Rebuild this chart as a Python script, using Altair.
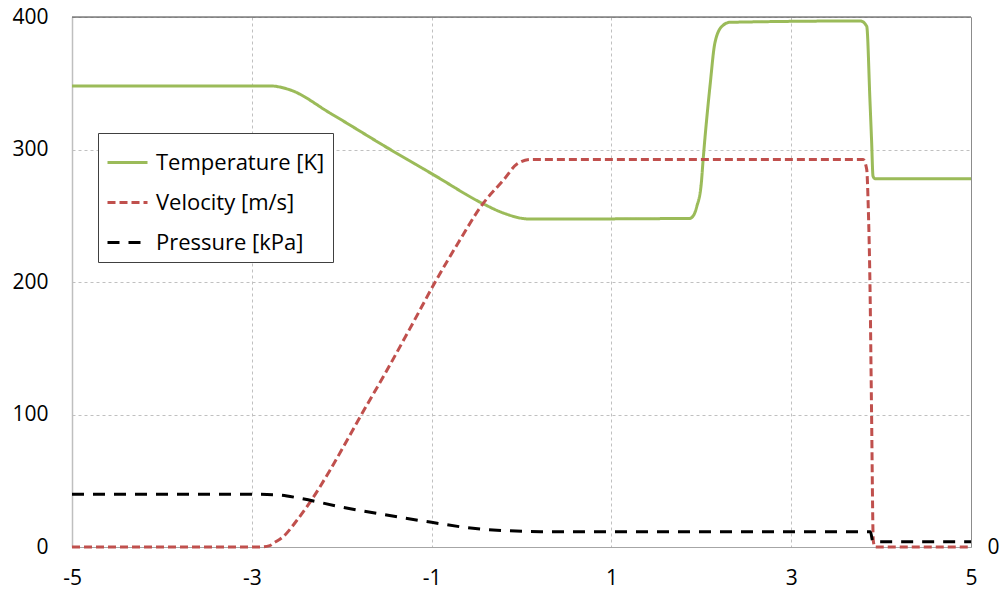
import altair as alt
import pandas as pd

# ---- data ----
series_names = ["Temperature [K]", "Velocity [m/s]", "Pressure [kPa]"]
series_colors = ["#9BBB59", "#C0504D", "#000000"]
series_dashes = [[1, 0], [8, 4], [12, 9]]

temp_x = [-5.0, -2.8, -2.575, -2.13, -1.46, -0.98, -0.425, -0.2, 0.094, 1.87,
          1.92, 1.95, 2.0, 2.02, 2.10, 2.15, 2.23, 2.32, 3.77, 3.84, 3.876,
          3.894, 3.91, 3.93, 5.0]
temp_y = [348, 348, 345, 327.5, 300, 281, 259, 252, 247.5, 248,
          251, 257, 274.5, 292, 350, 380, 393, 396, 397, 393, 337,
          307, 280, 278, 278]

vel_x = [-5.0, -2.9, -2.8, -2.76, -2.65, -2.5, -2.35, -2.13, -1.78, -1.5,
         -1.2, -0.96, -0.7, -0.43, -0.2, -0.05, 0.1, 3.80, 3.84, 3.857,
         3.876, 3.894, 3.913, 3.93, 5.0]
vel_y = [0, 0, 1, 2.8, 7.8, 20, 34, 58, 100, 133,
         170, 200, 230, 259, 277, 289, 292.5, 292.5, 285, 257,
         199, 101, 5, 0, 0]

pres_x = [-5.0, -3.0, -2.69, -2.46, -2.02, -1.57, -1.0, -0.54, -0.165, 0.21,
          3.88, 3.91, 5.0]
pres_y = [39.8, 39.8, 39.2, 36.7, 30.4, 24.9, 18.6, 14.1, 12.3, 11.6,
          11.6, 4.0, 4.0]

x_ticks = [-5, -3, -1, 1, 3, 5]
y_ticks = [0, 100, 200, 300, 400]
right_ticks = [0]
top_value = [400]

rows = []
for name, xs, ys in zip(series_names, [temp_x, vel_x, pres_x], [temp_y, vel_y, pres_y]):
    for i, (a, b) in enumerate(zip(xs, ys)):
        rows.append({"series": name, "x": a, "y": b, "order": i})
df = pd.DataFrame(rows)

FONT = "Open Sans"
LBL = 21

legend = alt.Legend(
    title=None, orient="none", legendX=26, legendY=116,
    symbolType="stroke", symbolSize=1600, symbolStrokeWidth=3,
    labelFont=FONT, labelFontSize=22, labelColor="black", labelLimit=400,
    labelOffset=7, rowPadding=7, padding=8,
    strokeColor="#404040", fillColor="white",
)

y_scale = alt.Scale(domain=[0, 400], nice=False, zero=True)

lines = alt.Chart(df).mark_line(strokeWidth=3, interpolate="monotone").encode(
    x=alt.X("x:Q", scale=alt.Scale(domain=[-5, 5], nice=False, zero=False),
            axis=alt.Axis(values=x_ticks, title=None, grid=True, gridDash=[3, 3],
                          gridColor="#C0C0C0", ticks=False, tickSize=0,
                          labelPadding=20, domainColor="#A6A6A6",
                          labelFont=FONT, labelFontSize=LBL, labelColor="black",
                          labelExpr="'' + datum.value", labelFlush=False)),
    y=alt.Y("y:Q", scale=y_scale,
            axis=alt.Axis(values=y_ticks, title=None, grid=True, gridDash=[3, 3],
                          gridColor="#C0C0C0", ticks=False, tickSize=0,
                          labelPadding=24, domainColor="#BFBFBF", domainWidth=1.5,
                          labelFont=FONT, labelFontSize=LBL, labelColor="black",
                          labelExpr="'' + datum.value")),
    color=alt.Color("series:N", scale=alt.Scale(domain=series_names, range=series_colors),
                    legend=legend),
    strokeDash=alt.StrokeDash("series:N", scale=alt.Scale(domain=series_names, range=series_dashes),
                              legend=legend),
    order="order:Q",
)

top_df = pd.DataFrame({"y": top_value})
top = alt.Chart(top_df).mark_rule(color="#404040", strokeWidth=1).encode(
    y=alt.Y("y:Q", scale=y_scale,
            axis=alt.Axis(orient="right", values=right_ticks, title=None, grid=False,
                          ticks=False, tickSize=0, labelPadding=16,
                          domainColor="#8C8C8C",
                          labelFont=FONT, labelFontSize=LBL, labelColor="black",
                          labelExpr="'' + datum.value"))
)

chart = alt.layer(lines, top).resolve_scale(y="independent").properties(
    width=899, height=530,
    autosize=alt.AutoSizeParams(type="none"),
    padding={"left": 64, "top": 9, "right": 29, "bottom": 44},
).configure_view(stroke=None).configure(font=FONT)

chart.save("out.html", embed_options={"renderer": "svg", "actions": False})
